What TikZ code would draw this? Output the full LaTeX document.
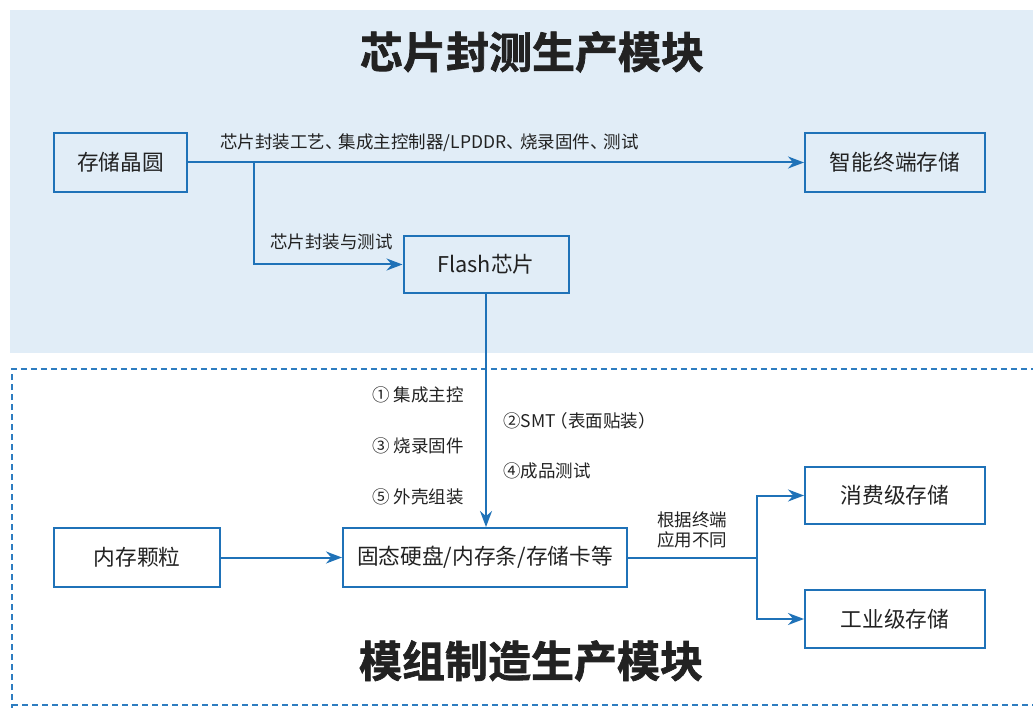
\documentclass[tikz,border=0pt]{standalone}
\usepackage{fontspec}
\setmainfont{Noto Sans CJK SC}[BoldFont={Noto Sans CJK SC Bold}]
\newfontfamily\heavyfont{Noto Sans CJK SC Bold}[FakeBold=1.6]
\usetikzlibrary{arrows.meta}
\definecolor{bgblue}{HTML}{E1EDF7}
\definecolor{lineblue}{HTML}{1F72B8}
\definecolor{dashblue}{HTML}{2E7DC0}
\definecolor{txt}{HTML}{222222}
\newcommand{\dunhao}{、\kern-3.8pt}
\begin{document}
\begin{tikzpicture}[x=1pt,y=-1pt,
  box/.style={draw=lineblue,line width=2pt,fill=none,text=txt,font=\fontsize{21.7}{26}\selectfont,inner sep=0pt},
  conn/.style={draw=lineblue,line width=2pt},
  arr/.style={conn,-{Stealth[length=16pt,width=12pt]}},
  lbl/.style={text=txt,font=\fontsize{17.5}{21}\selectfont,inner sep=0pt},
  ttl/.style={text=txt,font=\heavyfont\fontsize{43}{48}\selectfont,inner sep=0pt}]
\useasboundingbox (0,0) rectangle (1033,708);
\fill[white] (0,0) rectangle (1033,708);
% top panel
\fill[bgblue] (10,10) rectangle (1033,353);
% bottom dashed panel
\draw[dashblue,line width=1.6pt,dash pattern=on 6pt off 4pt] (12,1040) -- (12,369) -- (1040,369);
\draw[dashblue,line width=1.6pt,dash pattern=on 6pt off 4pt] (12,705) -- (1040,705);
% titles
\node[ttl] (t1) at (532,52) {芯片封测生产模块};
\node[ttl] (t2) at (531,661) {模组制造生产模块};
% boxes
\node[box,minimum width=133pt,minimum height=59pt] (wafer) at (120.5,162.5) {存储晶圆};
\node[box,minimum width=180pt,minimum height=59pt] (smart) at (895,162.5) {智能终端存储};
\node[box,minimum width=165pt,minimum height=57pt] (flash) at (486,264.5) {Flash芯片};
\node[box,minimum width=166pt,minimum height=59pt] (dram) at (137,557.5) {内存颗粒};
\node[box,minimum width=284pt,minimum height=59pt] (ssd) at (485,557.5) {固态硬盘/内存条/存储卡等};
\node[box,minimum width=180pt,minimum height=57pt] (consumer) at (895,495.5) {消费级存储};
\node[box,minimum width=180pt,minimum height=58pt] (industrial) at (895,619) {工业级存储};
% connectors
\draw[arr] (wafer.east) -- (smart.west);
\coordinate (b1) at (254,162.5);
\draw[arr] (b1) |- (flash.west);
\draw[arr] (flash.south) -- (flash.south |- ssd.north);
\draw[arr] (dram.east) -- (ssd.west);
\coordinate (sp) at (757,557.5);
\draw[conn] (ssd.east) -- (sp);
\draw[arr] (sp) |- (consumer.west);
\draw[arr] (sp) |- (industrial.west);
% labels
\node[lbl,anchor=west] (l1) at (220,143) {芯片封装工艺\dunhao 集成主控制器/LPDDR\dunhao 烧录固件\dunhao 测试};
\node[lbl,anchor=west] (l2) at (270,242) {芯片封装与测试};
\node[lbl,anchor=west] (s1) at (372,395) {① 集成主控};
\node[lbl,anchor=west] (s3) at (372,446) {③ 烧录固件};
\node[lbl,anchor=west] (s5) at (372,497) {⑤ 外壳组装};
\node[lbl,anchor=west] (s2) at (503,421) {②SMT\kern-5pt（表面贴装）};
\node[lbl,anchor=west] (s4) at (503,471) {④成品测试};
\node[lbl,align=center] (l3) at (692,530) {根据终端\\[-1pt]应用不同};
\end{tikzpicture}
\end{document}
